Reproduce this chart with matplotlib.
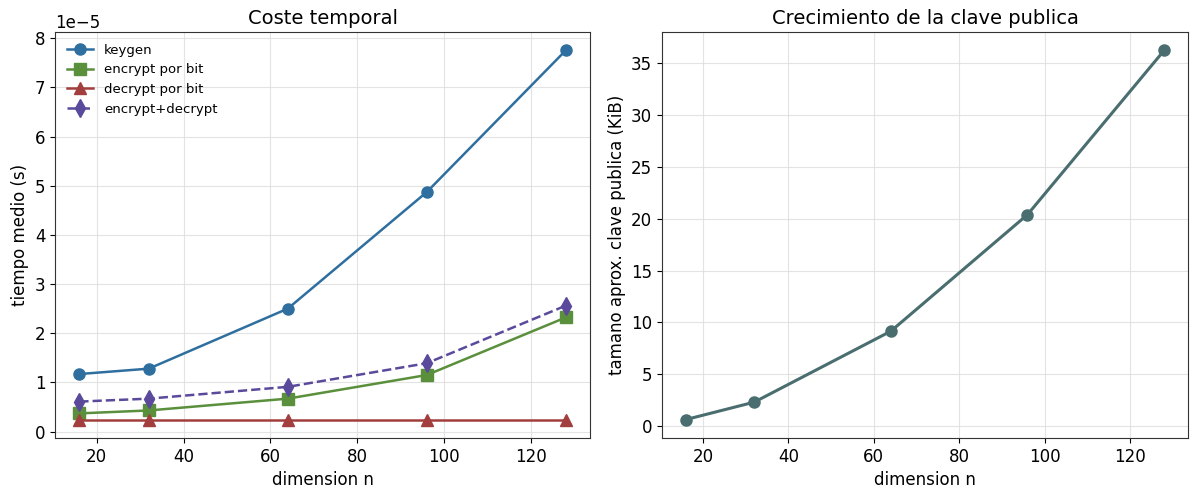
import matplotlib
matplotlib.use("Agg")
import matplotlib.pyplot as plt

n = [16, 32, 64, 96, 128]
keygen = [1.17e-5, 1.28e-5, 2.50e-5, 4.87e-5, 7.75e-5]
encrypt = [0.37e-5, 0.43e-5, 0.67e-5, 1.15e-5, 2.32e-5]
decrypt = [0.245e-5, 0.245e-5, 0.245e-5, 0.245e-5, 0.245e-5]
encdec = [0.61e-5, 0.67e-5, 0.91e-5, 1.39e-5, 2.56e-5]
pubkey_kib = [0.62, 2.3, 9.15, 20.4, 36.25]

W, H = 1198, 490
fig = plt.figure(figsize=(W / 100, H / 100), dpi=100)
ax1 = fig.add_axes([55 / W, 1 - 438 / H, (590 - 55) / W, (438 - 32) / H])
ax2 = fig.add_axes([662 / W, 1 - 438 / H, (1188 - 662) / W, (438 - 32) / H])

ax1.plot(n, keygen, '-o', color='#2f6f9f', lw=1.8, ms=8, label='keygen')
ax1.plot(n, encrypt, '-s', color='#5a8f3c', lw=1.8, ms=8, label='encrypt por bit')
ax1.plot(n, decrypt, '-^', color='#a23e3e', lw=1.8, ms=8, label='decrypt por bit')
ax1.plot(n, encdec, '--d', color='#5b4a9b', lw=1.8, ms=9, label='encrypt+decrypt')
ax1.set_title('Coste temporal', fontsize=14)
ax1.set_xlabel('dimension n', fontsize=12)
ax1.set_ylabel('tiempo medio (s)', fontsize=12)
ax1.legend(loc='upper left', fontsize=9.5, frameon=False)
ax1.grid(True, color='#dddddd', alpha=0.8, lw=0.8)
ax1.tick_params(labelsize=12)
ax1.yaxis.get_offset_text().set_fontsize(12)

ax2.plot(n, pubkey_kib, '-o', color='#4a6e70', lw=2.2, ms=8)
ax2.set_title('Crecimiento de la clave publica', fontsize=14)
ax2.set_xlabel('dimension n', fontsize=12)
ax2.set_ylabel('tamano aprox. clave publica (KiB)', fontsize=12)
ax2.grid(True, color='#dddddd', alpha=0.8, lw=0.8)
ax2.tick_params(labelsize=12)
ax2.set_yticks([0, 5, 10, 15, 20, 25, 30, 35])

for ax in (ax1, ax2):
    for s in ax.spines.values():
        s.set_color('#333333')
    ax.set_axisbelow(True)

fig.savefig('out.png', dpi=100)
